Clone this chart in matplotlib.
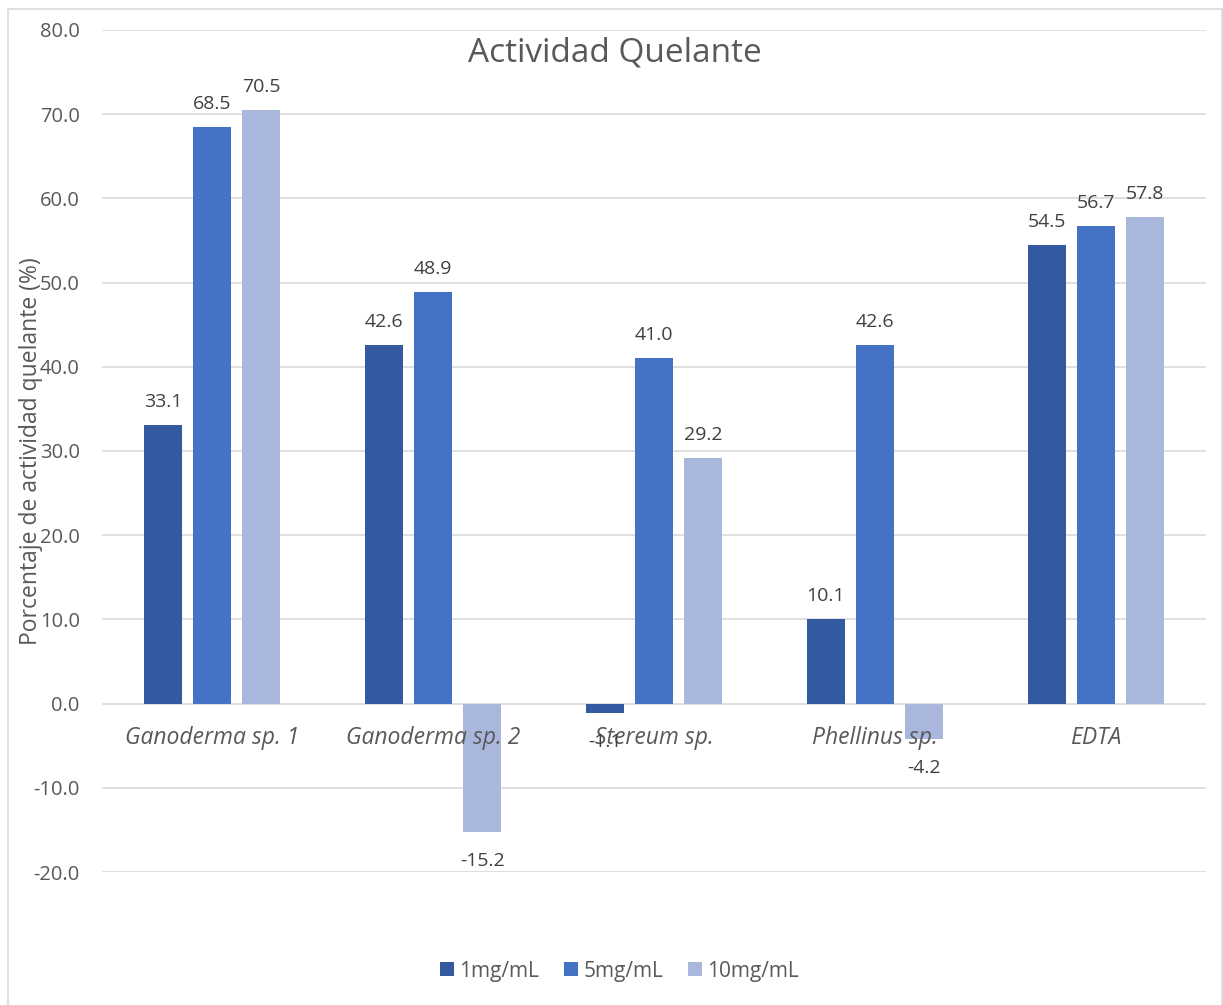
import numpy as np
import matplotlib
matplotlib.use("Agg")
import matplotlib.pyplot as plt
from matplotlib.patches import Rectangle

# data
categories = ["Ganoderma sp. 1", "Ganoderma sp. 2", "Stereum sp.", "Phellinus sp.", "EDTA"]
series_names = ["1mg/mL", "5mg/mL", "10mg/mL"]
vals_1mg = [33.1, 42.6, -1.1, 10.1, 54.5]
vals_5mg = [68.5, 48.9, 41.0, 42.6, 56.7]
vals_10mg = [70.5, -15.2, 29.2, -4.2, 57.8]
yticks = [-20, -10, 0, 10, 20, 30, 40, 50, 60, 70, 80]

colors = ["#335AA1", "#4472C4", "#A9B7DC"]
txt = "#595959"
plt.rcParams["font.family"] = ["Open Sans", "DejaVu Sans"]

fig = plt.figure(figsize=(12.23, 10.05), dpi=100)
ax = fig.add_axes([102 / 1223, 1 - 872 / 1005, 1104 / 1223, 842 / 1005])

# chart border
fig.patches.append(Rectangle((8 / 1223, -0.01), 1214 / 1223, 1 - 9 / 1005 + 0.01,
                             transform=fig.transFigure, fill=False,
                             edgecolor="#D9D9D9", linewidth=1.2))

x = np.arange(len(categories))
width = 0.172
offset = 0.222
all_vals = [vals_1mg, vals_5mg, vals_10mg]
for i, (vals, name) in enumerate(zip(all_vals, series_names)):
    bars = ax.bar(x + (i - 1) * offset, vals, width, color=colors[i], label=name, zorder=3)
    for b, v in zip(bars, vals):
        cx = b.get_x() + b.get_width() / 2
        # positive labels above the bar end, negative ones below it
        dy = 13 if v >= 0 else -24.5
        ax.annotate(f"{v:.1f}", (cx, v), xytext=(0, dy), textcoords="offset points",
                    ha="center", va="baseline", fontsize=14, color="#404040", zorder=5)

ax.set_xlim(-0.5, len(categories) - 0.5)
ax.set_ylim(-20, 80)
ax.set_yticks(yticks)
ax.set_yticklabels([f"{t:.1f}" for t in yticks], fontsize=14.5, color=txt)
ax.grid(axis="y", color="#D9D9D9", linewidth=1.2, zorder=0)
ax.tick_params(axis="y", length=0, pad=16)
ax.tick_params(axis="x", length=0, bottom=False, labelbottom=False)
for s in ax.spines.values():
    s.set_visible(False)

# category labels sit just under the zero line
for xi, c in zip(x, categories):
    ax.annotate(c, (xi, 0), xytext=(0, -29), textcoords="offset points", ha="center",
                va="baseline", fontsize=16.5, style="italic", color=txt)

ax.set_ylabel("Porcentaje de actividad quelante (%)", fontsize=16.5, color=txt)
ax.yaxis.set_label_coords(-59 / 1104, 0.5)

fig.text(615 / 1223, 1 - 53 / 1005, "Actividad Quelante", ha="center", va="center",
         fontsize=24, color=txt)

ax.legend(loc="center", bbox_to_anchor=(619.5 / 1223, 1 - 971 / 1005),
          bbox_transform=fig.transFigure, ncol=3, frameon=False, fontsize=15,
          handlelength=0.67, handleheight=0.67, handletextpad=0.25, columnspacing=1.2,
          labelcolor=txt)

fig.savefig("out.png", dpi=100)
